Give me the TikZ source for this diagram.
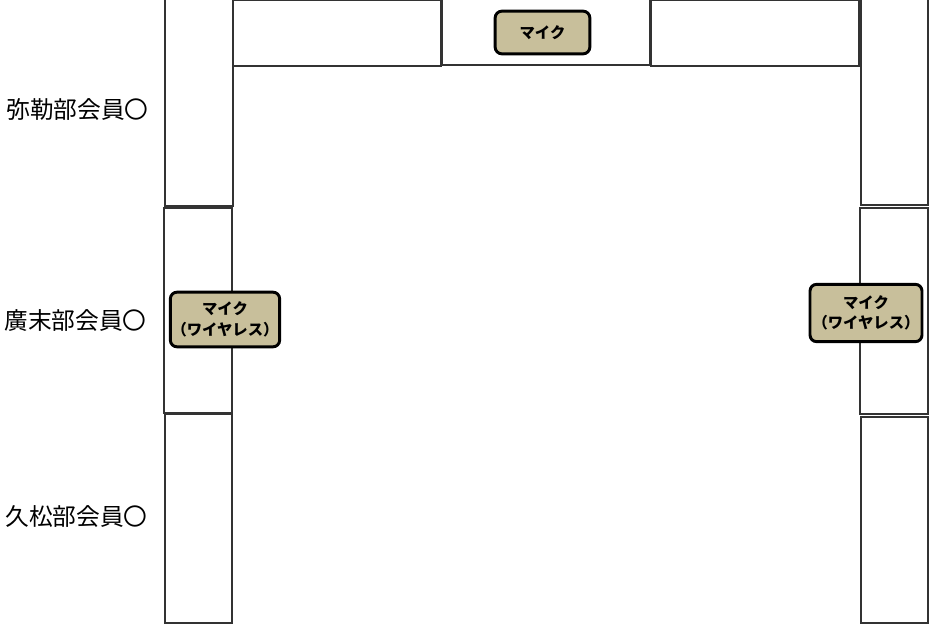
\documentclass[tikz,border=0pt]{standalone}
\usepackage{fontspec}
\newfontfamily\jpfont{Noto Sans CJK JP}
\usepackage{xcolor}
\definecolor{micfill}{RGB}{200,191,155}
\usetikzlibrary{positioning}
\tikzset{
  desk/.style={draw=black!80, line width=1.1pt, fill=white},
  mic/.style={draw=black, line width=2.2pt, rounded corners=5pt, fill=micfill,
    font=\jpfont\bfseries\fontsize{11.5}{15.5}\selectfont, align=center, inner sep=0pt},
  member/.style={font=\jpfont\fontsize{17.8}{20}\selectfont, inner sep=0pt, anchor=east}
}

\begin{document}
\begin{tikzpicture}[x=0.75pt,y=-0.75pt]
\useasboundingbox (0,0) rectangle (929,625);

% desks, left side
\draw[desk] (165,-3) rectangle (233,206);
\draw[desk] (164,208) rectangle (232,413);
\draw[desk] (165,414) rectangle (232,623);
% desks, top row
\draw[desk] (233,0) rectangle (441,66);
\draw[desk] (442,-3) rectangle (650,65);
\draw[desk] (651,0) rectangle (859,66);
% desks, right side
\draw[desk] (861,-3) rectangle (928,205);
\draw[desk] (860,208) rectangle (928,414);
\draw[desk] (861,417) rectangle (928,623);

% members
\node[member] (miroku) at (149,110) {弥勒部会員〇};
\node[member] (hirosue) at (147,321) {廣末部会員〇};
\node[member] (hisamatsu) at (148,517) {久松部会員〇};

% mics
\node[mic, minimum width=71pt, minimum height=32pt] (micTop) at (542.5,32.5) {マイク};
\node[mic, minimum width=82pt, minimum height=41pt] (micLeft) at (225,319.5) {マイク\\（ワイヤレス）};
\node[mic, minimum width=84pt, minimum height=43pt] (micRight) at (866,313) {マイク\\（ワイヤレス）};
\end{tikzpicture}
\end{document}
